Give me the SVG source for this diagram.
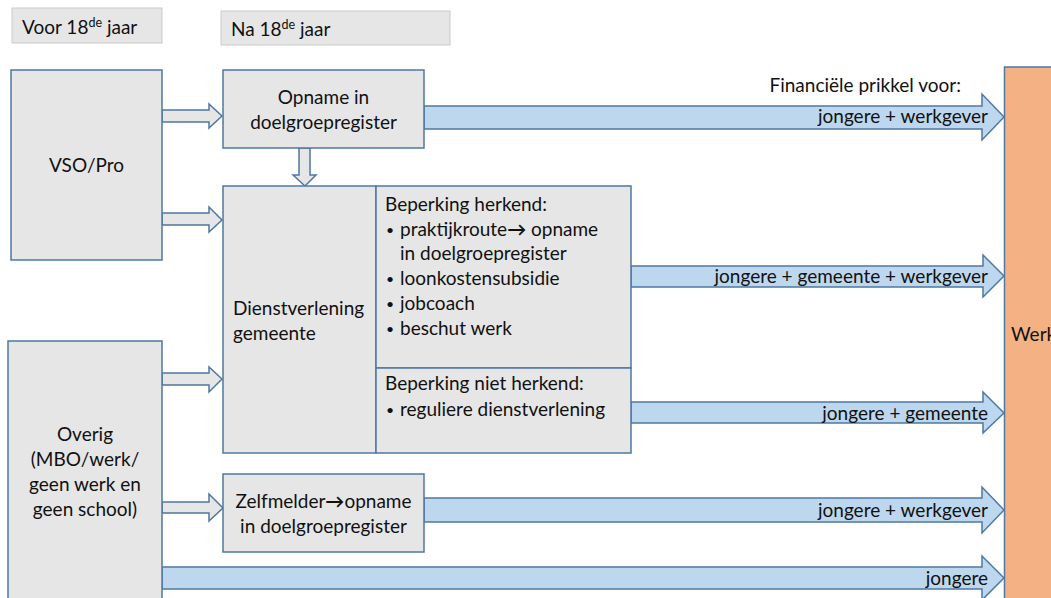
<svg xmlns="http://www.w3.org/2000/svg" width="1051" height="598" viewBox="0 0 1051 598">
<style>
.box{fill:#e6e6e6;stroke:#4f78a3;stroke-width:1.5}
.hdr{fill:#e6e6e6;stroke:#c9c9c9;stroke-width:1}
.hol{fill:#e6e6e6;stroke:#4f78a3;stroke-width:1.5;stroke-linejoin:miter}
.blu{fill:#bdd7ee;stroke:#4f78a3;stroke-width:1.5;stroke-linejoin:miter}
.t{font-family:Lato,"Liberation Sans",sans-serif;font-size:19px;fill:#111}
.c{text-anchor:middle}
.r{text-anchor:end}
.sup{font-size:12.5px}
.bul{font-size:14px}
.arr{font-weight:bold}
</style>
<rect width="1051" height="598" fill="#fff"/>
<g id="headers">
<rect class="hdr" x="12" y="8" width="150" height="35"/>
<text class="t" x="22" y="34">Voor 18<tspan class="sup" dy="-7">de</tspan><tspan dy="7"> jaar</tspan></text>
<rect class="hdr" x="221" y="11" width="229" height="34"/>
<text class="t" x="231" y="36">Na 18<tspan class="sup" dy="-7">de</tspan><tspan dy="7"> jaar</tspan></text>
</g>
<g id="werk">
<rect x="1004.5" y="67" width="60" height="540" fill="#f4b183" stroke="#4f78a3" stroke-width="1.5"/>
<text class="t" x="1011" y="341">Werk</text>
</g>
<g id="connectors">
<polygon class="hol" points="162,110 209,110 209,104 222,116 209,128 209,122 162,122"/>
<polygon class="hol" points="162,213 209,213 209,207 222,220 209,232 209,225 162,225"/>
<polygon class="hol" points="162,373 209,373 209,367 222,379 209,392 209,385 162,385"/>
<polygon class="hol" points="162,502 209,502 209,494 223,508 209,521 209,513 162,513"/>
<polygon class="hol" points="299,148 310,148 310,175 316,175 305,186 293,175 299,175"/>
<polygon class="blu" points="424,106 982,106 982,94 1004,117 982,140 982,129 424,129"/>
<polygon class="blu" points="631,266 983,266 983,255 1004,276 983,297 983,287 631,287"/>
<polygon class="blu" points="631,402 983,402 983,392 1004,413 983,433 983,423 631,423"/>
<polygon class="blu" points="424,498 982,498 982,487 1004,510 982,533 982,522 424,522"/>
<polygon class="blu" points="162,567 982,567 982,556 1004,578 982,600 982,589 162,589"/>
<text class="t r" x="961" y="92">Financiële prikkel voor:</text>
<text class="t r" x="988" y="123">jongere + werkgever</text>
<text class="t r" x="988" y="283">jongere + gemeente + werkgever</text>
<text class="t r" x="988" y="420">jongere + gemeente</text>
<text class="t r" x="988" y="517">jongere + werkgever</text>
<text class="t r" x="988" y="585">jongere</text>
</g>
<g id="vso">
<rect class="box" x="11" y="70" width="151" height="190"/>
<text class="t c" x="86.5" y="172">VSO/Pro</text>
</g>
<g id="overig">
<rect class="box" x="8" y="341" width="154" height="270"/>
<text class="t c" x="85" y="441">Overig</text>
<text class="t c" x="85" y="466">(MBO/werk/</text>
<text class="t c" x="85" y="491">geen werk en</text>
<text class="t c" x="85" y="516">geen school)</text>
</g>
<g id="opname">
<rect class="box" x="223" y="70" width="201" height="78"/>
<text class="t c" x="323.5" y="104">Opname in</text>
<text class="t c" x="323.5" y="129">doelgroepregister</text>
</g>
<g id="dienst">
<rect class="box" x="223" y="186" width="153" height="267"/>
<text class="t" x="233" y="315">Dienstverlening</text>
<text class="t" x="233" y="340">gemeente</text>
</g>
<g id="herkend">
<rect class="box" x="376" y="186" width="255" height="182"/>
<text class="t" x="385" y="211">Beperking herkend:</text>
<text class="t bul" x="386" y="235">•</text><text class="t" x="400" y="236">praktijkroute<tspan class="arr">→</tspan> opname</text>
<text class="t" x="400" y="260">in doelgroepregister</text>
<text class="t bul" x="386" y="284">•</text><text class="t" x="400" y="285">loonkostensubsidie</text>
<text class="t bul" x="386" y="309">•</text><text class="t" x="400" y="310">jobcoach</text>
<text class="t bul" x="386" y="334">•</text><text class="t" x="400" y="335">beschut werk</text>
</g>
<g id="nietherkend">
<rect class="box" x="376" y="368" width="255" height="85"/>
<text class="t" x="385" y="390">Beperking niet herkend:</text>
<text class="t bul" x="386" y="415">•</text><text class="t" x="400" y="416">reguliere dienstverlening</text>
</g>
<g id="zelfmelder">
<rect class="box" x="223" y="474" width="201" height="78"/>
<text class="t c" x="323.5" y="508">Zelfmelder<tspan class="arr">→</tspan>opname</text>
<text class="t c" x="323.5" y="533">in doelgroepregister</text>
</g>
</svg>
